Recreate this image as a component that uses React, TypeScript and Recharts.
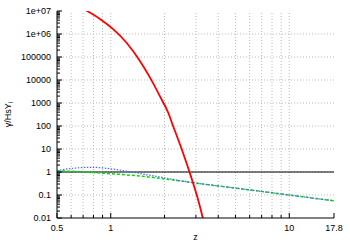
import { LineChart, Line, XAxis, YAxis, ReferenceLine } from 'recharts';

const FONT = '"Liberation Sans", Arial, sans-serif';

const X_MAJOR = [0.5, 1, 10, 17.8];
const X_MINOR = [0.6, 0.7, 0.8, 0.9, 2, 3, 4, 5, 6, 7, 8, 9];
const X_GRID = [0.6, 0.7, 0.8, 0.9, 1, 2, 3, 4, 5, 6, 7, 8, 9, 10];

const Y_MAJOR = [0.01, 0.1, 1, 10, 100, 1000, 10000, 100000, 1e6, 1e7];
const Y_LABELS = ['0.01', '0.1', '1', '10', '100', '1000', '10000', '100000', '1e+06', '1e+07'];
const Y_MINOR_STEPS = [2, 3, 4, 5, 6, 7, 8, 9];

// red: steep fall-off, runs off the top and bottom of the frame
const redData = [
  { z: 0.672, y: 1.5e7 },
  { z: 0.738, y: 1e7 },
  { z: 0.87, y: 4.54e6 },
  { z: 1.032, y: 1.62e6 },
  { z: 1.226, y: 4.17e5 },
  { z: 1.454, y: 6.9e4 },
  { z: 1.654, y: 1.33e4 },
  { z: 1.881, y: 2040 },
  { z: 2.093, y: 396 },
  { z: 2.232, y: 103 },
  { z: 2.538, y: 6.9 },
  { z: 2.828, y: 0.57 },
  { z: 3.078, y: 0.067 },
  { z: 3.284, y: 0.0095 },
  { z: 3.43, y: 0.0022 },
];

const unityData = [
  { z: 0.5, y: 1 },
  { z: 17.8, y: 1 },
];

const greenData = [
  { z: 0.5, y: 1.13 },
  { z: 0.6, y: 1.07 },
  { z: 0.7, y: 1.0 },
  { z: 0.8, y: 0.94 },
  { z: 0.9, y: 0.89 },
  { z: 1.0, y: 0.84 },
  { z: 1.2, y: 0.76 },
  { z: 1.5, y: 0.65 },
  { z: 2, y: 0.5 },
  { z: 3, y: 0.33 },
  { z: 5, y: 0.2 },
  { z: 8, y: 0.125 },
  { z: 12, y: 0.083 },
  { z: 17.8, y: 0.056 },
];

const blueData = [
  { z: 0.5, y: 1.15 },
  { z: 0.55, y: 1.3 },
  { z: 0.6, y: 1.42 },
  { z: 0.7, y: 1.56 },
  { z: 0.8, y: 1.6 },
  { z: 0.9, y: 1.5 },
  { z: 1.0, y: 1.38 },
  { z: 1.2, y: 1.12 },
  { z: 1.5, y: 0.83 },
  { z: 2, y: 0.56 },
  { z: 2.5, y: 0.41 },
  { z: 3, y: 0.33 },
  { z: 5, y: 0.2 },
  { z: 8, y: 0.125 },
  { z: 12, y: 0.083 },
  { z: 17.8, y: 0.056 },
];

const xTicks = [...X_MAJOR, ...X_MINOR].sort((a, b) => a - b);
const yTicks = [
  ...Y_MAJOR,
  ...Y_MAJOR.slice(0, -1).flatMap((d) => Y_MINOR_STEPS.map((m) => +(d * m).toPrecision(3))),
].sort((a, b) => a - b);

const GAP = 6;
const MAJOR_LEN = 5;
const MINOR_LEN = 3;

function BottomTick({ x, y, payload }: any) {
  const v = payload.value;
  const major = X_MAJOR.includes(v);
  const y0 = y - GAP;
  return (
    <g>
      <line x1={x} x2={x} y1={y0} y2={y0 - (major ? MAJOR_LEN : MINOR_LEN)} stroke="#000" />
      {major && (
        <text x={x} y={y0 + 13} textAnchor="middle" fontSize={9} fontFamily={FONT} fill="#000">
          {v}
        </text>
      )}
    </g>
  );
}

function TopTick({ x, y, payload }: any) {
  const major = X_MAJOR.includes(payload.value);
  return <line x1={x} x2={x} y1={y} y2={y + (major ? MAJOR_LEN : MINOR_LEN)} stroke="#000" />;
}

function LeftTick({ x, y, payload }: any) {
  const v = payload.value;
  const idx = Y_MAJOR.indexOf(v);
  const x0 = x + GAP;
  return (
    <g>
      <line x1={x0} x2={x0 + (idx >= 0 ? MAJOR_LEN : MINOR_LEN)} y1={y} y2={y} stroke="#000" />
      {idx >= 0 && (
        <text x={x0 - 6} y={y + 3} textAnchor="end" fontSize={9} fontFamily={FONT} fill="#000">
          {Y_LABELS[idx]}
        </text>
      )}
    </g>
  );
}

function RightTick({ x, y, payload }: any) {
  const major = Y_MAJOR.includes(payload.value);
  return <line x1={x} x2={x - (major ? MAJOR_LEN : MINOR_LEN)} y1={y} y2={y} stroke="#000" />;
}

function YLabel({ viewBox }: any) {
  const cx = viewBox.x + 11;
  const cy = viewBox.y + viewBox.height / 2;
  return (
    <text
      x={cx}
      y={cy}
      transform={`rotate(-90 ${cx} ${cy})`}
      textAnchor="middle"
      fontSize={9}
      fontFamily={FONT}
      fill="#000"
    >
      γ/HsY
      <tspan dy={2} fontSize={7}>
        i
      </tspan>
    </text>
  );
}

function XLabel({ viewBox }: any) {
  return (
    <text
      x={viewBox.x + viewBox.width / 2}
      y={viewBox.y + 22}
      textAnchor="middle"
      fontSize={9}
      fontFamily={FONT}
      fill="#000"
    >
      z
    </text>
  );
}

export default function App() {
  return (
    <div style={{ position: 'absolute', left: 0, top: 0, background: '#fff' }}>
      <LineChart width={350} height={246} margin={{ top: 11, right: 16, bottom: 0, left: 0 }}>
        <XAxis
          dataKey="z"
          type="number"
          scale="log"
          domain={[0.5, 17.8]}
          allowDataOverflow
          ticks={xTicks}
          interval={0}
          height={28}
          tickSize={0}
          tickMargin={GAP}
          tick={<BottomTick />}
          axisLine={{ stroke: '#000' }}
          label={XLabel}
        />
        <XAxis
          xAxisId="top"
          orientation="top"
          dataKey="z"
          type="number"
          scale="log"
          domain={[0.5, 17.8]}
          allowDataOverflow
          ticks={xTicks}
          interval={0}
          height={0}
          tickSize={0}
          tickMargin={0}
          tick={<TopTick />}
          axisLine={{ stroke: '#000' }}
        />
        <YAxis
          type="number"
          scale="log"
          domain={[0.01, 1e7]}
          allowDataOverflow
          ticks={yTicks}
          interval={0}
          width={57}
          tickSize={0}
          tickMargin={GAP}
          tick={<LeftTick />}
          axisLine={{ stroke: '#000' }}
          label={YLabel}
        />
        <YAxis
          yAxisId="right"
          orientation="right"
          type="number"
          scale="log"
          domain={[0.01, 1e7]}
          allowDataOverflow
          ticks={yTicks}
          interval={0}
          width={0}
          tickSize={0}
          tickMargin={0}
          tick={<RightTick />}
          axisLine={{ stroke: '#000' }}
        />
        {X_GRID.map((v) => (
          <ReferenceLine key={`gx-${v}`} x={v} stroke="#bbb" strokeDasharray="1 2" />
        ))}
        {Y_MAJOR.slice(1, -1).map((v) => (
          <ReferenceLine key={`gy-${v}`} y={v} stroke="#bbb" strokeDasharray="1 2" />
        ))}
        <Line
          data={unityData}
          dataKey="y"
          type="linear"
          stroke="#000"
          strokeWidth={1.2}
          dot={false}
          isAnimationActive={false}
        />
        <Line
          data={greenData}
          dataKey="y"
          type="monotone"
          stroke="#00dd00"
          strokeWidth={1.5}
          strokeDasharray="3 2"
          dot={false}
          isAnimationActive={false}
        />
        <Line
          data={blueData}
          dataKey="y"
          type="monotone"
          stroke="#5566ff"
          strokeWidth={1.2}
          strokeDasharray="1.5 1.5"
          dot={false}
          isAnimationActive={false}
        />
        <Line
          data={redData}
          dataKey="y"
          type="monotone"
          stroke="#ff0000"
          strokeWidth={1.8}
          dot={false}
          isAnimationActive={false}
        />
      </LineChart>
    </div>
  );
}
